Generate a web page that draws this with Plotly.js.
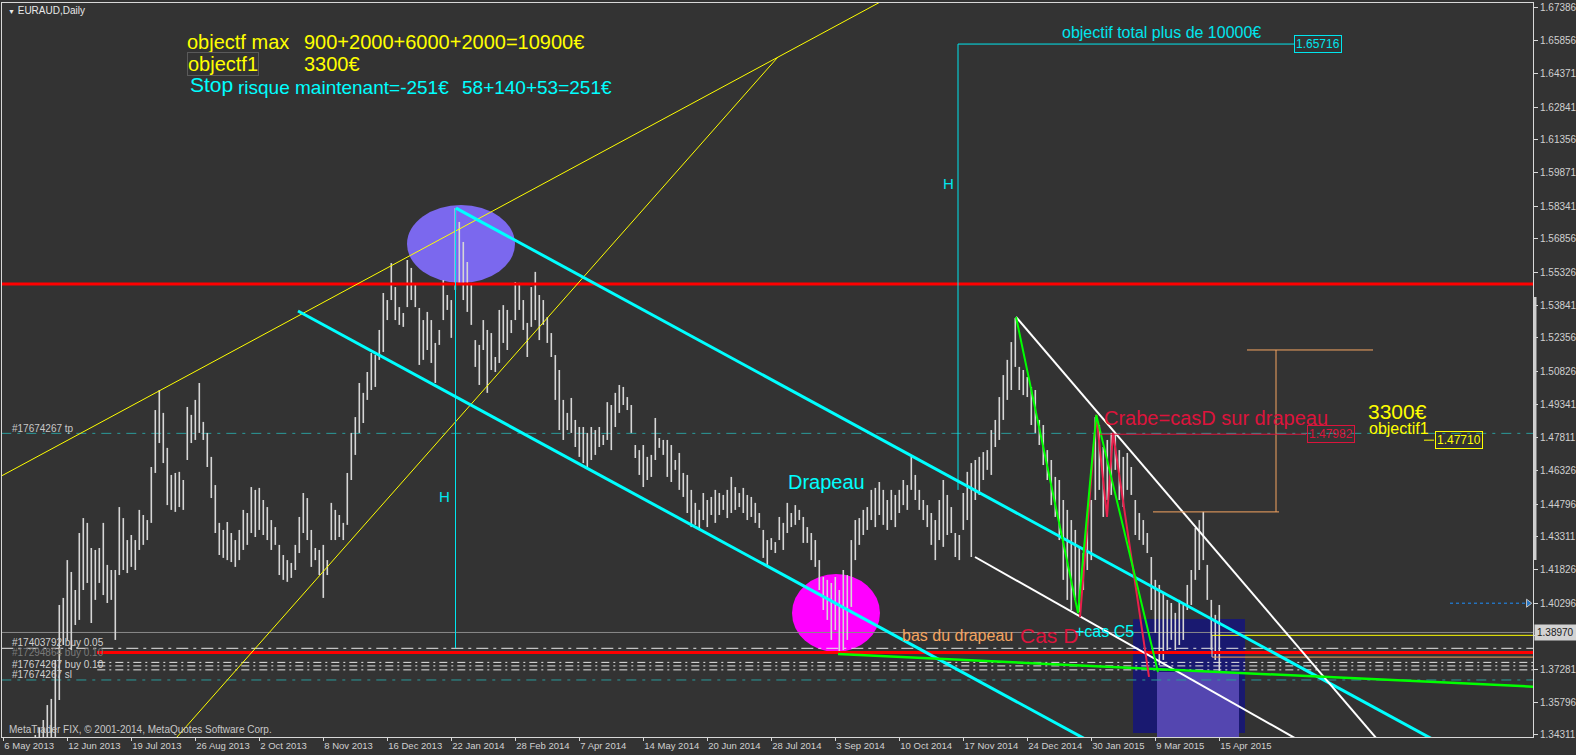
<!DOCTYPE html>
<html><head><meta charset="utf-8">
<script src="https://cdn.plot.ly/plotly-3.0.1.min.js"></script>
<style>html,body{margin:0;padding:0;background:#333333;}#chart{width:1576px;height:755px;}</style>
</head><body><div id="chart"></div>
<script>
// ---- price bars (every second daily bar), EURAUD ----
const firstBar = 16, barStep = 2;
const barHigh = [
1.3431,1.3463,1.3499,1.3567,1.3595,1.3772,1.4022,1.4054,1.4226,1.4172,
1.4090,1.4349,1.4417,1.4395,1.4281,1.4272,1.4281,1.4395,1.4204,1.4181,
1.4181,1.4467,1.4417,1.4317,1.4340,1.4317,1.4454,1.4431,1.4408,1.4649,
1.4908,1.4999,1.4895,1.4736,1.4613,1.4622,1.4627,1.4590,1.4922,1.4886,
1.4954,1.5031,1.4854,1.4804,1.4695,1.4567,1.4395,1.4363,1.4399,1.4349,
1.4317,1.4363,1.4454,1.4440,1.4558,1.4545,1.4554,1.4499,1.4467,1.4408,
1.4376,1.4295,1.4249,1.4226,1.4213,1.4295,1.4422,1.4531,1.4508,1.4363,
1.4281,1.4272,1.4295,1.4226,1.4486,1.4454,1.4431,1.4395,1.4622,1.4804,
1.4876,1.5031,1.4986,1.5081,1.5167,1.5158,1.5272,1.5440,1.5408,1.5576,
1.5467,1.5376,1.5349,1.5590,1.5554,1.5485,1.5372,1.5317,1.5354,1.5317,
1.5213,1.5272,1.5499,1.5431,1.5408,1.5826,1.5763,1.5672,1.5581,1.5486,
1.5226,1.5204,1.5317,1.5272,1.5258,1.5149,1.5363,1.5385,1.5363,1.5317,
1.5490,1.5486,1.5408,1.5304,1.5467,1.5536,1.5431,1.5408,1.5331,1.5258,
1.5158,1.5090,1.4954,1.4895,1.4963,1.4863,1.4831,1.4831,1.4804,1.4831,
1.4817,1.4831,1.4795,1.4944,1.4931,1.4986,1.5022,1.5013,1.4967,1.4931,
1.4749,1.4726,1.4749,1.4695,1.4704,1.4872,1.4781,1.4772,1.4772,1.4749,
1.4681,1.4713,1.4622,1.4613,1.4545,1.4486,1.4454,1.4531,1.4499,1.4513,
1.4545,1.4531,1.4522,1.4545,1.4604,1.4558,1.4531,1.4554,1.4522,1.4513,
1.4486,1.4440,1.4363,1.4317,1.4326,1.4308,1.4422,1.4395,1.4486,1.4440,
1.4476,1.4454,1.4422,1.4376,1.4349,1.4317,1.4226,1.4149,1.4136,1.4122,
1.4149,1.4090,1.4181,1.4158,1.4317,1.4408,1.4417,1.4454,1.4467,1.4545,
1.4554,1.4581,1.4545,1.4499,1.4545,1.4522,1.4545,1.4590,1.4567,1.4695,
1.4613,1.4545,1.4499,1.4476,1.4440,1.4408,1.4499,1.4590,1.4522,1.4467,
1.4349,1.4340,1.4531,1.4627,1.4667,1.4681,1.4695,1.4717,1.4726,1.4817,
1.4863,1.4967,1.5067,1.5136,1.5217,1.5326,1.5104,1.5090,1.5058,1.5013,
1.4999,1.4863,1.4840,1.4726,1.4681,1.4604,1.4590,1.4499,1.4454,1.4408,
1.4363,1.4286,1.4258,1.4408,1.4499,1.4876,1.4840,1.4740,1.4772,1.4804,
1.4804,1.4726,1.4695,1.4713,1.4649,1.4499,1.4440,1.4408,1.4349,1.4240,
1.4136,1.4113,1.4077,1.4045,1.4031,1.3986,1.4045,1.4022,1.4113,1.4181,
1.4372,1.4408,1.4445,1.4204,1.4045,1.3977,1.4022
];
const barLow = [
1.3317,1.3317,1.3317,1.3385,1.3408,1.3422,1.3590,1.3840,1.3863,1.3817,
1.3931,1.3954,1.4090,1.4122,1.3940,1.4045,1.4122,1.4067,1.4031,1.4045,
1.3863,1.4158,1.4181,1.4167,1.4195,1.4181,1.4272,1.4295,1.4317,1.4395,
1.4622,1.4758,1.4667,1.4476,1.4454,1.4445,1.4467,1.4454,1.4681,1.4758,
1.4772,1.4804,1.4772,1.4649,1.4508,1.4349,1.4249,1.4236,1.4226,1.4217,
1.4195,1.4226,1.4272,1.4295,1.4349,1.4331,1.4363,1.4340,1.4317,1.4272,
1.4295,1.4158,1.4136,1.4127,1.4145,1.4181,1.4258,1.4349,1.4317,1.4195,
1.4226,1.4158,1.4054,1.4158,1.4317,1.4317,1.4331,1.4317,1.4386,1.4590,
1.4704,1.4804,1.4849,1.4954,1.4999,1.5013,1.5136,1.5172,1.5317,1.5408,
1.5317,1.5295,1.5286,1.5376,1.5408,1.5376,1.5113,1.5136,1.5181,1.5122,
1.5031,1.5204,1.5317,1.5363,1.5236,1.5454,1.5486,1.5408,1.5354,1.5295,
1.5104,1.5022,1.5181,1.4986,1.5090,1.5081,1.5122,1.5213,1.5181,1.5258,
1.5317,1.5363,1.5272,1.5149,1.5286,1.5317,1.5226,1.5295,1.5213,1.5149,
1.4954,1.4817,1.4772,1.4817,1.4804,1.4740,1.4695,1.4667,1.4649,1.4681,
1.4704,1.4740,1.4749,1.4772,1.4726,1.4831,1.4895,1.4931,1.4908,1.4804,
1.4690,1.4613,1.4558,1.4590,1.4604,1.4681,1.4736,1.4704,1.4604,1.4581,
1.4636,1.4545,1.4513,1.4440,1.4376,1.4386,1.4363,1.4408,1.4376,1.4431,
1.4395,1.4431,1.4454,1.4417,1.4440,1.4454,1.4467,1.4440,1.4408,1.4422,
1.4395,1.4372,1.4236,1.4204,1.4272,1.4258,1.4317,1.4272,1.4349,1.4376,
1.4386,1.4408,1.4304,1.4304,1.4226,1.4195,1.4090,1.3999,1.3954,1.3863,
1.3908,1.3808,1.3817,1.3863,1.4013,1.4226,1.4295,1.4340,1.4363,1.4408,
1.4376,1.4431,1.4386,1.4363,1.4408,1.4376,1.4440,1.4476,1.4454,1.4545,
1.4499,1.4454,1.4408,1.4376,1.4295,1.4226,1.4317,1.4286,1.4340,1.4349,
1.4240,1.4226,1.4363,1.4408,1.4240,1.4499,1.4522,1.4590,1.4636,1.4613,
1.4740,1.4772,1.4863,1.4954,1.4999,1.5104,1.4999,1.4976,1.4967,1.4840,
1.4804,1.4749,1.4658,1.4590,1.4476,1.4422,1.4317,1.4136,1.4045,1.3999,
1.4045,1.3990,1.4090,1.4181,1.4226,1.4499,1.4545,1.4422,1.4499,1.4522,
1.4636,1.4499,1.4467,1.4545,1.4522,1.4340,1.4317,1.4295,1.4258,1.3999,
1.3895,1.3749,1.3772,1.3817,1.3863,1.3817,1.3840,1.3863,1.3999,1.4022,
1.4136,1.4181,1.4226,1.4045,1.3817,1.3772,1.3718
];

// ---- axes ----
const dateTickBars = [0,32,64,96,128,160,192,224,256,288,320,352,384,416,448,480,512,544,576,608];
const dateLabels = ['6 May 2013','12 Jun 2013','19 Jul 2013','26 Aug 2013','2 Oct 2013','8 Nov 2013',
 '16 Dec 2013','22 Jan 2014','28 Feb 2014','7 Apr 2014','14 May 2014','20 Jun 2014','28 Jul 2014',
 '3 Sep 2014','10 Oct 2014','17 Nov 2014','24 Dec 2014','30 Jan 2015','9 Mar 2015','15 Apr 2015'];
const priceTicks = [1.67386,1.65856,1.64371,1.62841,1.61356,1.59871,1.58341,1.56856,1.55326,1.53841,
 1.52356,1.50826,1.49341,1.47811,1.46326,1.44796,1.43311,1.41826,1.40296,1.38811,1.37281,1.35796,1.34311];
const currentPrice = 1.38970;

// ---- drawn objects (bar index, price) ----
const yellowA_x = [-1, 444.85],      yellowA_y = [1.4608, 1.6794];
const yellowB_x = [83.25, 387.35],   yellowB_y = [1.3385, 1.6513];
const cyanUp_x = [226.35, 719.85],   cyanUp_y = [1.5826, 1.3386];
const cyanLow_x = [147.35, 546.35],  cyanLow_y = [1.5358, 1.3386];
const whiteSteep_x = [506.35, 689.35], whiteSteep_y = [1.5331, 1.3386];
const whiteLow_x = [485.85, 651.85],   whiteLow_y = [1.4240, 1.3386];
const greenBase_x = [417.35, 768.35],  greenBase_y = [1.3799, 1.3649];
const greenZig_x = [506.35, 537.35, 546.5, 577.35], greenZig_y = [1.5331, 1.3985, 1.4886, 1.3717];
const crabZig_x = [538.35, 546.5, 551.85, 554.85, 572.85], crabZig_y = [1.3967, 1.4886, 1.4422, 1.4804, 1.3695];
const hLeft_x = [226.1, 226.1], hLeft_y = [1.5826, 1.3826];
const hRight_x = [477.35, 477.35, 645.35], hRight_y = [1.4545, 1.65716, 1.65716];
const bracket_x = [621.85, 684.85, null, 636.35, 636.35, null, 574.85, 637.85];
const bracket_y = [1.5181, 1.5181, null, 1.5181, 1.4445, null, 1.4445, 1.4445];
const crabLevel_x = [548.35, 651.35], crabLevel_y = [1.4798, 1.4798];
const obj1Tick_x = [710.35, 715.35], obj1Tick_y = [1.4771, 1.4771];
const arrowLine_x = [723.35, 762.5], arrowLine_y = [1.4030, 1.4030];
const boxEdge_x = [604.35, 604.35], boxEdge_y = [1.3884, 1.3785];
// horizontal levels
const levelRedTop = 1.5481, levelRedLow = 1.3806, levelBuy05 = 1.3825;
const levelBuy10 = [1.3761, 1.3745, 1.3727], levelSL = 1.3681, levelTP = 1.4802;
const levelYellow = 1.3884, levelOrange = 1.3785;
// zones
const ellipseBlue_x = [201.85, 255.85], ellipseBlue_y = [1.5486, 1.5840];
const ellipsePink_x = [394.35, 438.35], ellipsePink_y = [1.3808, 1.4163];
const rectNavy_x = [564.85, 620.85], rectNavy_y = [1.3440, 1.3958];
const rectViolet_x = [576.85, 617.85], rectViolet_y = [1.3380, 1.3717];

const X0 = -1, X1 = 770;
const FONT = 'Liberation Sans, Arial, sans-serif';

function seg(xs, ys, color, width, dash) {
  return {type:'scatter', mode:'lines', x:xs, y:ys, hoverinfo:'skip', showlegend:false,
          line:{color:color, width:width, dash:dash || 'solid'}};
}

// bars
const bx = [], by = [];
barHigh.forEach((h, k) => {
  const i = firstBar + barStep * k;
  bx.push(i, i, null); by.push(barLow[k], h, null);
});

const traces = [
  seg([X0, X1], [levelTP, levelTP], '#2a9a9a', 1, '10px,6px,3px,6px'),
  seg([X0, X1], [levelSL, levelSL], '#2a9a9a', 1, '10px,6px,3px,6px'),
  seg([X0, X1], [currentPrice, currentPrice], '#8a8a8a', 1),
  seg([X0, X1], [levelBuy05, levelBuy05], '#e6e6e6', 1, '12px,5px,3px,5px'),
  seg([47, X1], [levelBuy10[0], levelBuy10[0]], '#e6e6e6', 1, '8px,4px,2px,4px'),
  seg([47, X1], [levelBuy10[1], levelBuy10[1]], '#e6e6e6', 1, '8px,4px,2px,4px'),
  seg([47, X1], [levelBuy10[2], levelBuy10[2]], '#e6e6e6', 1, '8px,4px,2px,4px'),
  {type:'scatter', mode:'lines', x:bx, y:by, hoverinfo:'skip', showlegend:false, line:{color:'#d6d6d6', width:1.6}},
  seg([X0, X1], [levelRedTop, levelRedTop], '#ff0000', 3),
  seg([46.85, X1], [levelRedLow, levelRedLow], '#ff0000', 3),
  seg([boxEdge_x[0], X1], [levelYellow, levelYellow], '#ffff00', 1),
  seg([boxEdge_x[0], X1], [levelOrange, levelOrange], '#f4a460', 1),
  seg(boxEdge_x, boxEdge_y, '#d0d0d0', 1),
  seg(yellowA_x, yellowA_y, '#ffff00', 1),
  seg(yellowB_x, yellowB_y, '#ffff00', 1),
  seg(hLeft_x, hLeft_y, '#00e5ee', 1),
  seg(hRight_x, hRight_y, '#00e5ee', 1),
  seg(cyanUp_x, cyanUp_y, '#00ffff', 3),
  seg(cyanLow_x, cyanLow_y, '#00ffff', 3),
  seg(whiteSteep_x, whiteSteep_y, '#ffffff', 2),
  seg(whiteLow_x, whiteLow_y, '#ffffff', 2),
  seg(greenBase_x, greenBase_y, '#00ff00', 2.5),
  seg(crabZig_x, crabZig_y, '#e8204c', 2),
  seg(greenZig_x, greenZig_y, '#00ff00', 2),
  seg(bracket_x, bracket_y, '#f4a460', 1),
  seg(crabLevel_x, crabLevel_y, '#dc143c', 1),
  seg(obj1Tick_x, obj1Tick_y, '#ffff00', 1),
  {type:'scatter', mode:'lines+markers', x:arrowLine_x, y:arrowLine_y, hoverinfo:'skip', showlegend:false,
   line:{color:'#1e90ff', width:1, dash:'dot'},
   marker:{symbol:'triangle-right', size:[0,7], color:'#1e90ff'}}
];

function ann(x, y, text, color, size, extra) {
  return Object.assign({x:x, y:y, xref:'x', yref:'y', text:text, showarrow:false,
    xanchor:'left', yanchor:'middle', font:{family:FONT, size:size, color:color}}, extra || {});
}

const annotations = [
  ann(1.2, 1.6724, '<span style="font-size:7px">▼</span> EURAUD,Daily', '#e8e8e8', 10),
  ann(90.85, 1.6581, 'objectf max', '#ffff00', 20),
  ann(149.35, 1.6581, '900+2000+6000+2000=10900€', '#ffff00', 20),
  ann(91.85, 1.6481, 'objectf1', '#ffff00', 20, {bordercolor:'#5a5a5a', borderwidth:1, borderpad:0}),
  ann(149.35, 1.6481, '3300€', '#ffff00', 20),
  ann(92.35, 1.6387, 'Stop', '#00ffff', 21),
  ann(116.35, 1.6372, 'risque maintenant=-251€', '#00ffff', 19),
  ann(228.35, 1.6372, '58+140+53=251€', '#00ffff', 19),
  ann(528.35, 1.6624, 'objectif total plus de 10000€', '#00e5ee', 16),
  ann(645.35, 1.65716, '1.65716', '#00e5ee', 12, {bordercolor:'#00e5ee', borderwidth:1, borderpad:1}),
  ann(216.85, 1.4513, 'H', '#00e5ee', 15),
  ann(468.85, 1.5940, 'H', '#00e5ee', 15),
  ann(391.35, 1.4581, 'Drapeau', '#00ffff', 20),
  ann(448.35, 1.3883, 'bas du drapeau', '#f4a460', 16),
  ann(507.35, 1.3885, 'Cas D', '#dc143c', 21),
  ann(534.85, 1.3900, '+cas C5', '#00ffff', 16),
  ann(549.35, 1.4872, 'Crabe=casD sur drapeau', '#dc143c', 20),
  ann(681.35, 1.4900, '3300€', '#ffff00', 21),
  ann(681.85, 1.4822, 'objectif1', '#ffff00', 16),
  ann(651.85, 1.4797, '1.47982', '#dc143c', 12, {bordercolor:'#dc143c', borderwidth:1, borderpad:1}),
  ann(715.85, 1.4772, '1.47710', '#ffff00', 12, {bordercolor:'#ffff00', borderwidth:1, borderpad:1}),
  ann(3.35, 1.4826, '#17674267 tp', '#c8c8c8', 10),
  ann(3.35, 1.3850, '#17403792 buy 0.05', '#d0d0d0', 10),
  ann(3.35, 1.3804, '#17294864 buy 0.10', '#7a7a7a', 10),
  ann(3.35, 1.3753, '#17674267 buy 0.10', '#d0d0d0', 10),
  ann(3.35, 1.3708, '#17674267 sl', '#d0d0d0', 10),
  ann(1.85, 1.3456, 'MetaTrader FIX, © 2001-2014, MetaQuotes Software Corp.', '#c8c8c8', 10),
  {x:1.0007, xref:'paper', y:currentPrice, yref:'y', text:currentPrice.toFixed(5), showarrow:false, xanchor:'left', yanchor:'middle',
   bgcolor:'#d2d2d2', borderpad:2, font:{family:FONT, size:10, color:'#1a1a1a'}}
];

const shapes = [
  {type:'circle', layer:'below', xref:'x', yref:'y', x0:ellipseBlue_x[0], x1:ellipseBlue_x[1], y0:ellipseBlue_y[0], y1:ellipseBlue_y[1],
   fillcolor:'#7b68ee', line:{width:0}},
  {type:'circle', layer:'below', xref:'x', yref:'y', x0:ellipsePink_x[0], x1:ellipsePink_x[1], y0:ellipsePink_y[0], y1:ellipsePink_y[1],
   fillcolor:'#ff00ff', line:{width:0}},
  {type:'rect', layer:'below', xref:'x', yref:'y', x0:rectNavy_x[0], x1:rectNavy_x[1], y0:rectNavy_y[0], y1:rectNavy_y[1],
   fillcolor:'#191970', line:{width:0}},
  {type:'rect', layer:'below', xref:'x', yref:'y', x0:rectViolet_x[0], x1:rectViolet_x[1], y0:rectViolet_y[0], y1:rectViolet_y[1],
   fillcolor:'#5446b0', line:{width:0}},
  {type:'line', xref:'paper', yref:'y', x0:1.0013, x1:1.0013, y0:1.4226, y1:1.5422, line:{color:'#cfcfcf', width:3}}
];

// the 1.38811 label sits under the current-price box in the reference
const priceTickText = priceTicks.map(v => Math.abs(v - currentPrice) < 0.003 ? '' : v.toFixed(5));

const layout = {
  width:1576, height:755,
  margin:{l:2, r:43, t:3, b:18, pad:0},
  paper_bgcolor:'#333333', plot_bgcolor:'#333333',
  showlegend:false, hovermode:false,
  xaxis:{range:[-0.65, 764.85], showgrid:false, zeroline:false, showline:true, mirror:true,
    linecolor:'#d8d8d8', linewidth:1, ticks:'outside', ticklen:3, tickcolor:'#d8d8d8',
    tickvals:dateTickBars, ticktext:dateLabels, tickangle:0, ticklabelposition:'outside right',
    ticklabeloverflow:'allow',
    tickfont:{family:FONT, size:9.5, color:'#d0d0d0'}, fixedrange:true},
  yaxis:{range:[1.34218, 1.67582], side:'right', showgrid:false, zeroline:false, showline:true, mirror:true,
    linecolor:'#d8d8d8', linewidth:1, ticks:'outside', ticklen:4, tickcolor:'#d8d8d8',
    tickvals:priceTicks, ticktext:priceTickText,
    tickfont:{family:FONT, size:10, color:'#d0d0d0'}, fixedrange:true},
  shapes:shapes,
  annotations:annotations
};

Plotly.newPlot('chart', traces, layout, {displayModeBar:false, staticPlot:true});
</script></body></html>
